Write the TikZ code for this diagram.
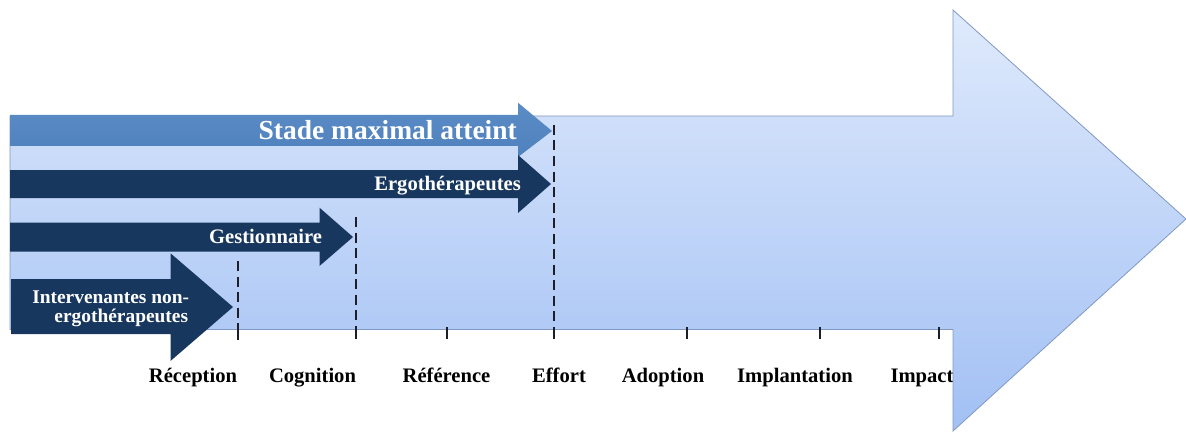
\documentclass[tikz,border=0pt]{standalone}
\usepackage{fontspec}
\setmainfont{Liberation Serif}
\definecolor{navy}{HTML}{17375E}
\definecolor{midblue}{HTML}{4F81BD}
\definecolor{midbluetop}{HTML}{5B8CC6}
\definecolor{bigtop}{HTML}{DFEAFC}
\definecolor{bigbot}{HTML}{A2C0F4}
\definecolor{bigedge}{HTML}{8098C2}
\definecolor{dashcol}{HTML}{1E1E28}
\begin{document}
\begin{tikzpicture}[x=1pt,y=-1pt,
  stagelabel/.style={anchor=base, inner sep=0pt, text=black, font=\fontsize{20.6}{24}\selectfont\bfseries},
  bartext/.style={anchor=base east, inner sep=0pt, text=white, font=\fontsize{20.6}{24}\selectfont\bfseries},
  navybar/.style={fill=navy, draw=none},
  guide/.style={draw=dashcol, line width=2pt, dash pattern=on 10pt off 5.5pt},
  tickmark/.style={draw=dashcol, line width=2pt}]
\useasboundingbox (0,0) rectangle (1186,433);

% stage labels (drawn first: the big arrow head covers the end of "Impact")
\node[stagelabel] (reception) at (193,382) {Réception};
\node[stagelabel] (cognition) at (312.5,382) {Cognition};
\node[stagelabel] (reference) at (446.5,382) {Référence};
\node[stagelabel] (effort) at (559,382) {Effort};
\node[stagelabel] (adoption) at (663,382) {Adoption};
\node[stagelabel] (implantation) at (795,382) {Implantation};
\node[stagelabel] (impact) at (922,382) {Impact};

% big background arrow
\path[draw=bigedge, line width=0.8pt, top color=bigtop, bottom color=bigbot]
  (10,116) -- (953,116) -- (953,10) -- (1186,219) -- (953,431) -- (953,329.5) -- (10,329.5) -- cycle;

% Stade maximal atteint arrow
\path[top color=midbluetop, bottom color=midblue]
  (10,115) -- (518,115) -- (518,102.7) -- (552,131) -- (518,157) -- (518,146) -- (10,146) -- cycle;
% Ergotherapeutes arrow
\path[navybar]
  (10,170) -- (518,170) -- (518,155) -- (551,184) -- (518,213) -- (518,198) -- (10,198) -- cycle;
% Gestionnaire arrow
\path[navybar]
  (10,222.7) -- (319.5,222.7) -- (319.5,207.7) -- (353,237) -- (319.5,266) -- (319.5,251.7) -- (10,251.7) -- cycle;
% Intervenantes arrow
\path[navybar]
  (11,279) -- (170.5,279) -- (170.5,253.3) -- (233,307) -- (170.5,361) -- (170.5,334) -- (11,334) -- cycle;

% texts in bars
\node[bartext, font=\fontsize{27.5}{30}\selectfont\bfseries] (stade) at (517,140) {Stade maximal atteint};
\node[bartext] (ergo) at (521,190) {Ergothérapeutes};
\node[bartext] (gest) at (322.3,243.3) {Gestionnaire};
\node[bartext, font=\fontsize{19.4}{20}\selectfont\bfseries] (interva) at (189.3,303.3) {Intervenantes non-};
\node[bartext, font=\fontsize{19.4}{20}\selectfont\bfseries] (intervb) at (188.3,322.7) {ergothérapeutes};

% dashed guides
\coordinate (gRt) at (237.5,261); \coordinate (gRb) at (237.5,340);
\coordinate (gCt) at (355.5,217); \coordinate (gCb) at (355.5,340);
\coordinate (gEt) at (554,125);   \coordinate (gEb) at (554,340);
\draw[guide] (gRt) -- (gRb);
\draw[guide] (gCt) -- (gCb);
\draw[guide] (gEt) -- (gEb);

% ticks on the axis
\foreach \tx/\tn in {237.5/tR,355.5/tC,447/tF,554/tE,686.5/tA,820/tI,938.5/tP}{
  \coordinate (\tn a) at (\tx,327);
  \coordinate (\tn b) at (\tx,339);
  \draw[tickmark] (\tn a) -- (\tn b);
}
\end{tikzpicture}
\end{document}
